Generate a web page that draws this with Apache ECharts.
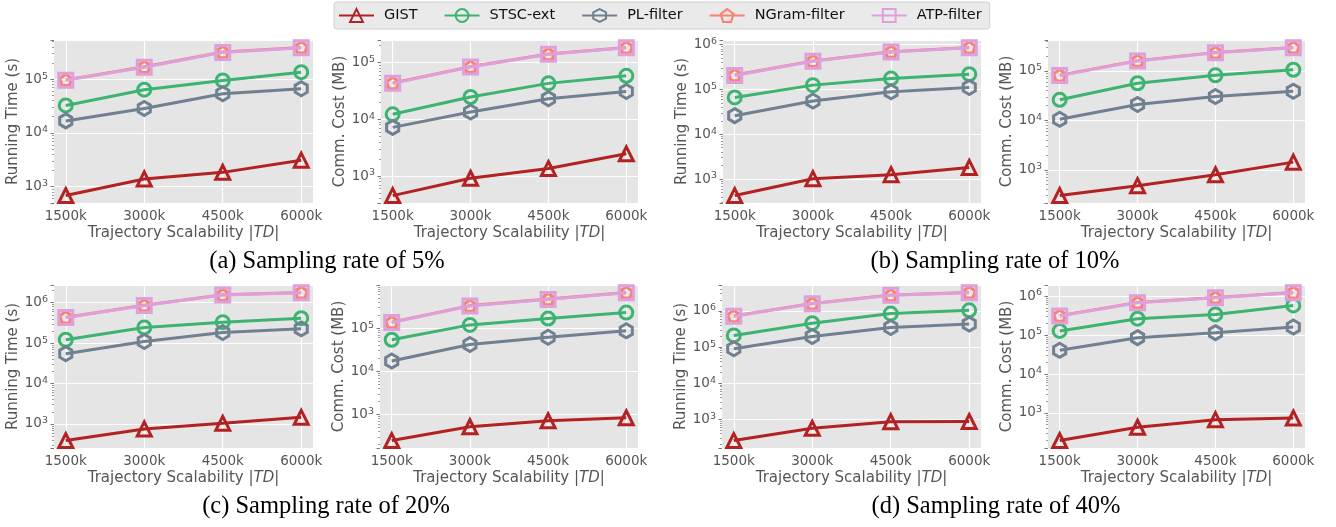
<!DOCTYPE html>
<html><head><meta charset="utf-8">
<script src="https://cdn.jsdelivr.net/npm/echarts@6/dist/echarts.min.js"></script>
<style>html,body{margin:0;padding:0;background:#fff}#c{width:1336px;height:527px}</style>
</head><body><div id="c"></div><script>
// ---- data ----
const categories = ['1500k', '3000k', '4500k', '6000k'];
const xValues = [1500, 3000, 4500, 6000];
const methods = ['GIST', 'STSC-ext', 'PL-filter', 'NGram-filter', 'ATP-filter'];
const captions = ['(a) Sampling rate of 5%', '(b) Sampling rate of 10%', '(c) Sampling rate of 20%', '(d) Sampling rate of 40%'];
const yNames = ['Running Time (s)', 'Comm. Cost (MB)'];
const xName = 'Trajectory Scalability |{i|TD}|';

// rows: GIST, STSC-ext, PL-filter, NGram-filter, ATP-filter
const rate5Time = [
  [680, 1390, 1840, 3100],
  [32400, 63600, 94500, 134700],
  [16700, 28500, 53500, 66400],
  [97000, 170000, 320000, 390000],
  [95800, 166700, 315000, 385000]
];
const rate5Comm = [
  [452, 912, 1355, 2460],
  [12200, 24600, 42800, 58100],
  [7180, 13400, 23000, 30800],
  [43500, 84500, 141000, 184000],
  [42800, 83100, 139000, 181000]
];
const rate10Time = [
  [426, 1017, 1250, 1815],
  [66400, 125000, 175000, 219000],
  [26000, 55100, 88700, 111000],
  [210000, 435000, 700000, 870000],
  [205000, 427000, 688000, 858000]
];
const rate10Comm = [
  [300, 476, 793, 1427],
  [26100, 56500, 81800, 106000],
  [10500, 21000, 30400, 39000],
  [82000, 162000, 238000, 300000],
  [80600, 159000, 234000, 295000]
];
const rate20Time = [
  [388, 753, 1038, 1460],
  [121000, 243000, 330000, 413000],
  [54600, 110000, 183000, 225000],
  [438000, 865000, 1570000, 1795000],
  [430000, 849000, 1545000, 1766000]
];
const rate20Comm = [
  [248, 520, 714, 838],
  [53900, 119000, 167000, 229000],
  [17300, 41800, 61500, 86900],
  [138000, 333000, 473000, 673000],
  [135000, 326000, 464000, 661000]
];
const rate40Time = [
  [258, 564, 862, 870],
  [210000, 459000, 844000, 1043000],
  [89900, 197000, 349000, 432000],
  [726000, 1620000, 2750000, 3260000],
  [713000, 1592000, 2705000, 3206000]
];
const rate40Comm = [
  [196, 430, 675, 745],
  [127000, 262000, 338000, 574000],
  [40500, 85500, 115000, 160000],
  [314000, 687000, 922000, 1238000],
  [308000, 675000, 906000, 1217000]
];

// ---- styles / layout ----
const FONT = 'DejaVu Sans';
const colors = ['#B22222', '#3CB371', '#708090', '#FA8072', '#DDA0DD'];
const HEX = 'path://M0,-1 L0.866,-0.5 L0.866,0.5 L0,1 L-0.866,0.5 L-0.866,-0.5 Z';
const PENT = 'path://M0,-1 L0.951,-0.309 L0.588,0.809 L-0.588,0.809 L-0.951,-0.309 Z';
const symbols = ['triangle', 'circle', HEX, PENT, 'rect'];
const symbolSizes = [14, 13, 14, 12, 14];

const panels = [
  {data: rate5Time,  y: 0, left: 54,   top: 40,  width: 259, height: 163},
  {data: rate5Comm,  y: 1, left: 381,  top: 40,  width: 257, height: 163},
  {data: rate10Time, y: 0, left: 723,  top: 40,  width: 258, height: 163},
  {data: rate10Comm, y: 1, left: 1048, top: 40,  width: 257, height: 163},
  {data: rate20Time, y: 0, left: 54,   top: 285, width: 259, height: 163},
  {data: rate20Comm, y: 1, left: 380,  top: 285, width: 258, height: 163},
  {data: rate40Time, y: 0, left: 722,  top: 285, width: 259, height: 163},
  {data: rate40Comm, y: 1, left: 1048, top: 285, width: 257, height: 163}
];
const captionPos = [[327, 262], [995, 262], [326, 507], [996, 507]];

const logMin = v => { const a = Math.log10(v.min), b = Math.log10(v.max); return Math.pow(10, a - 0.05 * (b - a)); };
const logMax = v => { const a = Math.log10(v.min), b = Math.log10(v.max); return Math.pow(10, b + 0.05 * (b - a)); };
const linMin = v => v.min - 0.05 * (v.max - v.min);
const linMax = v => v.max + 0.05 * (v.max - v.min);

const yFmt = v => {
  const e = Math.log10(v);
  if (Math.abs(e - Math.round(e)) < 1e-6) return '{b|10}{s|' + Math.round(e) + '}';
  return '';
};

const grid = [], xAxis = [], yAxis = [], series = [];
panels.forEach((p, i) => {
  grid.push({left: p.left, top: p.top, width: p.width, height: p.height, show: true,
    backgroundColor: '#E5E5E5', borderWidth: 0});
  xAxis.push({
    type: 'value', gridIndex: i, min: linMin, max: linMax,
    axisLine: {show: false},
    axisTick: {show: false, customValues: xValues},
    axisLabel: {customValues: xValues, formatter: v => categories[xValues.indexOf(v)],
      color: '#555', fontSize: 13.5, fontFamily: FONT, margin: 6},
    splitLine: {show: true, lineStyle: {color: '#fff', width: 1.2}},
    name: xName, nameLocation: 'middle', nameGap: 23,
    nameTextStyle: {color: '#555', fontSize: 15, fontFamily: FONT,
      rich: {i: {fontStyle: 'italic', color: '#555', fontSize: 15, fontFamily: FONT}}}
  });
  yAxis.push({
    type: 'log', logBase: 10, gridIndex: i, min: logMin, max: logMax,
    axisLine: {show: false},
    axisTick: {show: true, length: 3.5, lineStyle: {color: '#555', width: 0.8}},
    minorTick: {show: true, splitNumber: 9, length: 2, lineStyle: {color: '#555', width: 0.6}},
    minorSplitLine: {show: false},
    axisLabel: {formatter: yFmt, margin: 6, color: '#555', fontFamily: FONT,
      rich: {
        b: {fontSize: 13.5, lineHeight: 16, color: '#555', fontFamily: FONT},
        s: {fontSize: 9.5, lineHeight: 8, verticalAlign: 'top', color: '#555', fontFamily: FONT}
      }},
    splitLine: {show: true, lineStyle: {color: '#fff', width: 1.2}},
    name: yNames[p.y], nameLocation: 'middle', nameGap: 31,
    nameTextStyle: {color: '#555', fontSize: 15, fontFamily: FONT}
  });
  methods.forEach((m, k) => {
    series.push({
      type: 'line', name: m, xAxisIndex: i, yAxisIndex: i,
      data: xValues.map((x, j) => [x, p.data[k][j]]),
      symbol: symbols[k], symbolSize: symbolSizes[k], symbolKeepAspect: true,
      showSymbol: true,
      lineStyle: {color: colors[k], width: 3},
      itemStyle: {color: 'rgba(0,0,0,0)', borderColor: colors[k], borderWidth: 3},
      emphasis: {disabled: true},
      z: 2 + k
    });
  });
});

const graphic = captions.map((t, i) => ({
  type: 'text', x: captionPos[i][0], y: captionPos[i][1],
  style: {text: t, fill: '#000', fontSize: 24.5, fontFamily: 'Liberation Serif',
    align: 'center', verticalAlign: 'middle'}
}));

const chart = echarts.init(document.getElementById('c'));
chart.setOption({
  animation: false,
  backgroundColor: '#fff',
  legend: {
    data: methods, left: 334, top: 2, padding: [6, 8, 6, 4],
    itemWidth: 35, itemHeight: 16, itemGap: 26,
    backgroundColor: '#EAEAEA', borderColor: '#D0D0D0', borderWidth: 1, borderRadius: 3,
    textStyle: {fontFamily: FONT, fontSize: 14.5, color: '#111', padding: [0, 0, 0, 5]},
    selectedMode: false
  },
  grid, xAxis, yAxis, series, graphic
});
</script></body></html>
